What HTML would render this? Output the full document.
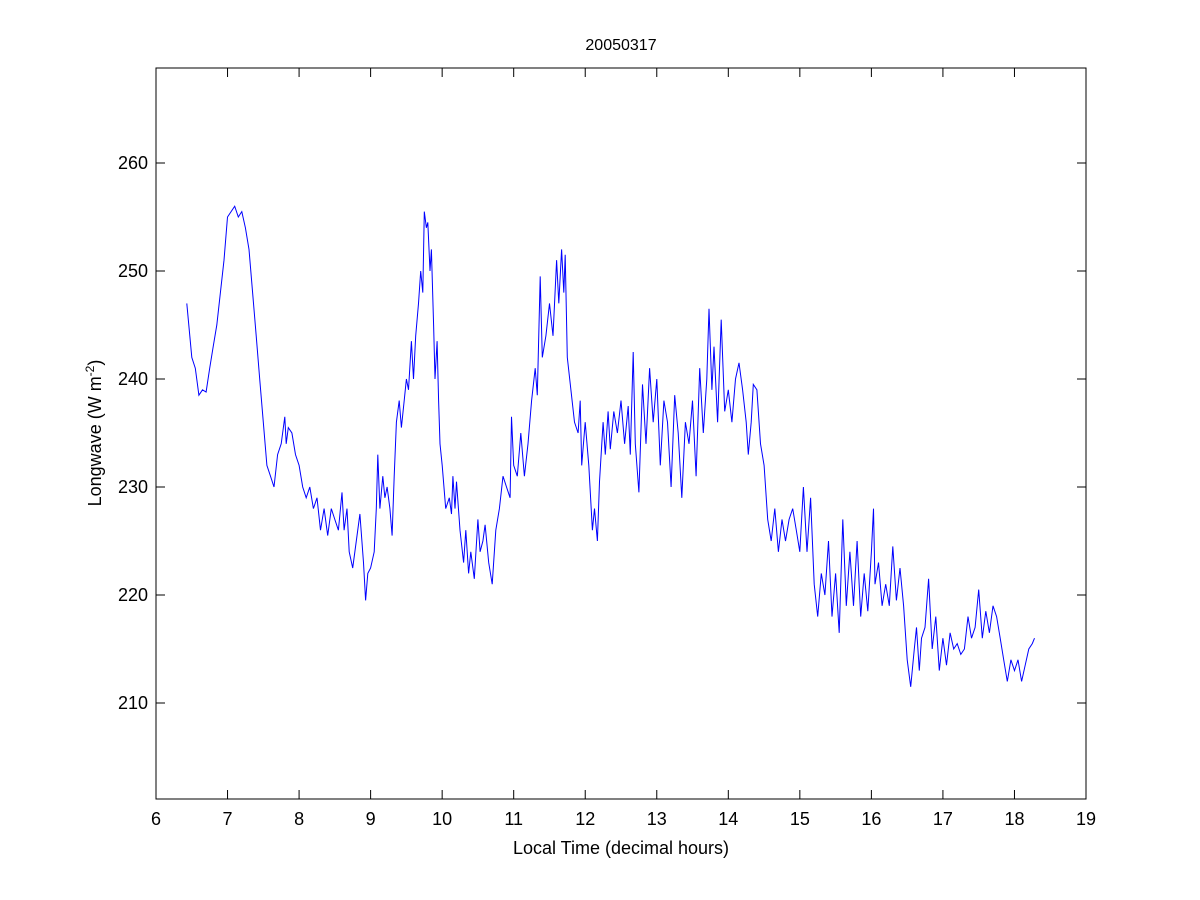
<!DOCTYPE html>
<html>
<head>
<meta charset="utf-8">
<style>
  html, body { margin: 0; padding: 0; background: #fff; }
  svg { display: block; font-family: "Liberation Sans", Arial, sans-serif; }
</style>
</head>
<body>
<svg id="chart" width="1200" height="900" viewBox="0 0 1200 900" xmlns="http://www.w3.org/2000/svg">
  <rect x="0" y="0" width="1200" height="900" fill="#fff"/>
  <rect x="156" y="68" width="930" height="731" fill="#fff" stroke="#000" stroke-width="1"/>
  <g id="ticks"></g>
  <polyline id="series" fill="none" stroke="#0000ff" stroke-width="1"/>
  <text x="621" y="50" font-size="16" text-anchor="middle">20050317</text>
  <text x="621" y="854" font-size="18" text-anchor="middle">Local Time (decimal hours)</text>
  <text transform="translate(101,433) rotate(-90)" font-size="18" text-anchor="middle">Longwave (W m<tspan baseline-shift="super" font-size="12">-2</tspan>)</text>
</svg>
<script>
const xTicks = [6,7,8,9,10,11,12,13,14,15,16,17,18,19];
const yTicks = [210,220,230,240,250,260];
const hours = [6.43,6.5,6.55,6.6,6.65,6.7,6.75,6.8,6.85,6.9,6.95,7.0,7.05,7.1,7.15,7.2,7.25,7.3,7.35,7.4,7.45,7.5,7.55,7.6,7.65,7.7,7.75,7.8,7.82,7.85,7.9,7.95,8.0,8.05,8.1,8.15,8.2,8.25,8.3,8.35,8.4,8.45,8.5,8.55,8.6,8.63,8.67,8.7,8.75,8.8,8.85,8.9,8.93,8.96,9.0,9.05,9.08,9.1,9.13,9.17,9.2,9.23,9.27,9.3,9.33,9.36,9.4,9.43,9.47,9.5,9.53,9.57,9.6,9.63,9.67,9.7,9.73,9.75,9.78,9.8,9.83,9.85,9.88,9.9,9.93,9.95,9.97,10.0,10.05,10.1,10.13,10.15,10.18,10.2,10.25,10.3,10.33,10.37,10.4,10.45,10.5,10.53,10.57,10.6,10.65,10.7,10.75,10.8,10.85,10.9,10.95,10.97,11.0,11.05,11.1,11.15,11.2,11.25,11.3,11.33,11.37,11.4,11.45,11.5,11.55,11.6,11.63,11.67,11.7,11.72,11.75,11.8,11.85,11.9,11.93,11.95,12.0,12.05,12.1,12.13,12.17,12.2,12.25,12.28,12.32,12.35,12.4,12.45,12.5,12.55,12.6,12.63,12.67,12.7,12.75,12.8,12.85,12.9,12.95,13.0,13.05,13.1,13.15,13.2,13.25,13.3,13.35,13.4,13.45,13.5,13.55,13.6,13.65,13.7,13.73,13.77,13.8,13.85,13.9,13.95,14.0,14.05,14.1,14.15,14.2,14.25,14.28,14.32,14.35,14.4,14.45,14.5,14.55,14.6,14.65,14.7,14.75,14.8,14.85,14.9,14.95,15.0,15.05,15.1,15.15,15.2,15.25,15.3,15.35,15.4,15.45,15.5,15.55,15.6,15.65,15.7,15.75,15.8,15.85,15.9,15.95,16.0,16.03,16.05,16.1,16.15,16.2,16.25,16.3,16.35,16.4,16.45,16.5,16.55,16.6,16.63,16.67,16.7,16.75,16.8,16.85,16.9,16.95,17.0,17.05,17.1,17.15,17.2,17.25,17.3,17.35,17.4,17.45,17.5,17.55,17.6,17.65,17.7,17.75,17.8,17.85,17.9,17.95,18.0,18.05,18.1,18.15,18.2,18.25,18.28];
const longwave = [247,242,241,238.5,239,238.8,241,243,245,248,251,255,255.5,256,255,255.5,254,252,248,244,240,236,232,231,230,233,234,236.5,234,235.5,235,233,232,230,229,230,228,229,226,228,225.5,228,227,226,229.5,226,228,224,222.5,225,227.5,223,219.5,222,222.5,224,228,233,228,231,229,230,228,225.5,231,236,238,235.5,238,240,239,243.5,240,244,247,250,248,255.5,254,254.5,250,252,245,240,243.5,238,234,232,228,229,227.5,231,228,230.5,226,223,226,222,224,221.5,227,224,225,226.5,223,221,226,228,231,230,229,236.5,232,231,235,231,234,238,241,238.5,249.5,242,244,247,244,251,247,252,248,251.5,242,239,236,235,238,232,236,232,226,228,225,230.5,236,233,237,233.5,237,235,238,234,237.5,233,242.5,234,229.5,239.5,234,241,236,240,232,238,236,230,238.5,235,229,236,234,238,231,241,235,240,246.5,239,243,236,245.5,237,239,236,240,241.5,239,236,233,236,239.5,239,234,232,227,225,228,224,227,225,227,228,226,224,230,224,229,221,218,222,220,225,218,222,216.5,227,219,224,219,225,218,222,218.5,224,228,221,223,219,221,219,224.5,219.5,222.5,219,214,211.5,215,217,213,216,217,221.5,215,218,213,216,213.5,216.5,215,215.5,214.5,215,218,216,217,220.5,216,218.5,216.5,219,218,216,214,212,214,213,214,212,213.5,215,215.5,216];

const X0 = 156, X1 = 1086, Y0 = 68, Y1 = 799;
const xMin = 6, xMax = 19;
const yAt260 = 163, yAt210 = 703;
const yScale = (yAt210 - yAt260) / 50;
function xPos(v) { return X0 + (v - xMin) / (xMax - xMin) * (X1 - X0); }
function yPos(v) { return yAt210 - (v - 210) * yScale; }

const NS = "http://www.w3.org/2000/svg";
const g = document.getElementById("ticks");
function mk(tag, attrs) {
  const e = document.createElementNS(NS, tag);
  for (const k in attrs) e.setAttribute(k, attrs[k]);
  return e;
}
xTicks.forEach(t => {
  const x = xPos(t);
  const l1 = mk("line", {x1: x, x2: x, y1: Y1, y2: Y1 - 9, stroke: "#000"});
  
  
  g.appendChild(l1);
  const l2 = mk("line", {x1: x, x2: x, y1: Y0, y2: Y0 + 9, stroke: "#000"});
  
  
  g.appendChild(l2);
  const tx = mk("text", {x: x, y: Y1 + 26, "font-size": 18, "text-anchor": "middle"});
  tx.textContent = t;
  
  
  g.appendChild(tx);
});
yTicks.forEach(t => {
  const y = yPos(t);
  const l1 = mk("line", {x1: X0, x2: X0 + 9, y1: y, y2: y, stroke: "#000"});
  
  
  g.appendChild(l1);
  const l2 = mk("line", {x1: X1, x2: X1 - 9, y1: y, y2: y, stroke: "#000"});
  
  
  g.appendChild(l2);
  const tx = mk("text", {x: X0 - 8, y: y + 6, "font-size": 18, "text-anchor": "end"});
  tx.textContent = t;
  
  
  g.appendChild(tx);
});
document.getElementById("series").setAttribute("points",
  hours.map((h, i) => xPos(h).toFixed(1) + "," + yPos(longwave[i]).toFixed(1)).join(" "));
</script>
</body>
</html>
